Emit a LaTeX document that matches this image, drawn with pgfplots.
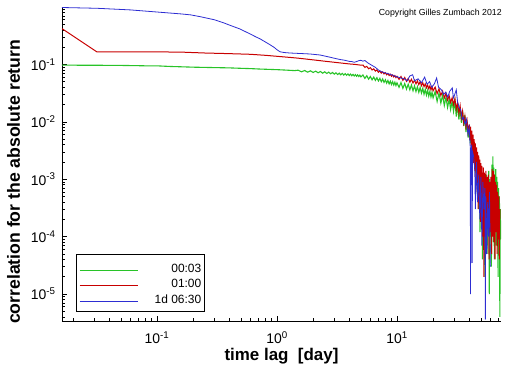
\documentclass[border=0pt]{standalone}
\usepackage{fontspec}
\setmainfont{Liberation Sans}
\usepackage{pgfplots}
\pgfplotsset{compat=1.18}
\definecolor{cgreen}{RGB}{40,195,40}
\definecolor{cred}{RGB}{200,0,0}
\definecolor{cblue}{RGB}{45,45,210}
\begin{document}
\begin{tikzpicture}
\begin{axis}[
 at={(0,0)}, anchor=south west,
 scale only axis, width=439bp, height=314bp,
 xmode=log, ymode=log,
 xmin=0.01615, xmax=73.6, ymin=3.39e-6, ymax=1.0,
 axis lines=left, axis line style={-, line width=0.8bp},
 tick align=inside,
 major tick length=5bp, minor tick length=3bp,
 every tick/.style={black, line width=0.6bp},
 xtick={0.1,1,10},
 xticklabels={10\textsuperscript{-1},10\textsuperscript{0},10\textsuperscript{1}},
 minor xtick={0.02,0.03,0.04,0.05,0.06,0.07,0.08,0.09,0.2,0.3,0.4,0.5,0.6,0.7,0.8,0.9,2,3,4,5,6,7,8,9,20,30,40,50,60,70},
 ytick={1e-5,1e-4,1e-3,1e-2,1e-1},
 yticklabels={10\textsuperscript{-5},10\textsuperscript{-4},10\textsuperscript{-3},10\textsuperscript{-2},10\textsuperscript{-1}},
 minor ytick={4e-6,5e-6,6e-6,7e-6,8e-6,9e-6,2e-5,3e-5,4e-5,5e-5,6e-5,7e-5,8e-5,9e-5,2e-4,3e-4,4e-4,5e-4,6e-4,7e-4,8e-4,9e-4,2e-3,3e-3,4e-3,5e-3,6e-3,7e-3,8e-3,9e-3,0.02,0.03,0.04,0.05,0.06,0.07,0.08,0.09,0.2,0.3,0.4,0.5,0.6,0.7,0.8,0.9},
 ticklabel style={font=\fontsize{14}{14}\selectfont},
 yticklabel style={xshift=-3bp},
 xticklabel style={yshift=-7bp},
 xlabel={time lag\ \ [day]},
 ylabel={correlation for the absolute return},
 xlabel style={font=\bfseries\fontsize{17}{17}\selectfont, at={(axis description cs:0.5,-0.111)}, anchor=center},
 ylabel style={font=\bfseries\fontsize{17.7}{18}\selectfont, at={(axis description cs:-0.1105,0.443)}, anchor=center},
 legend image code/.code={\draw[#1] (0bp,0bp) -- (58bp,0bp);},
 legend style={draw=none, fill=none, at={(rel axis cs:0.0387,0.1871)}, anchor=north west,
   inner sep=0pt, row sep=0pt, column sep=0pt, font=\fontsize{12}{12}\selectfont,
   nodes={inner xsep=0pt, inner ysep=0pt, text height=10bp, text depth=5.5bp}},
 legend cell align=right,
]
\addplot[cgreen, line width=1.1bp] coordinates {
(0.01615,0.097)(0.025,0.0968)(0.035,0.0965)(0.05,0.096)(0.07,0.095)(0.09,0.094)(0.1,0.0945)(0.11,0.0935)(0.13,0.092)(0.156,0.091)(0.2,0.0895)(0.3,0.088)(0.4,0.087)(0.5,0.0855)(0.6,0.0845)(0.72,0.083)(0.85,0.082)(1.0,0.081)(1.2,0.0795)(1.4,0.078)
(1.5,0.0793)(1.6,0.0742)(1.7,0.0783)(1.8,0.0732)(1.9,0.0773)(2.0,0.0724)(2.1,0.0763)(2.2,0.0714)(2.3,0.0753)(2.4,0.0704)(2.5,0.0743)(2.6,0.0695)(2.7,0.0733)(2.8,0.0686)(2.9,0.0723)(3.0,0.0676)(3.1,0.0713)(3.2,0.0666)(3.3,0.0702)(3.4,0.0660)(3.5,0.0697)(3.6,0.0653)(3.7,0.0690)(3.8,0.0647)(3.9,0.0684)(4.0,0.0641)(4.1,0.0678)(4.2,0.0634)(4.3,0.0671)(4.4,0.0629)(4.5,0.0664)(4.6,0.0622)(4.7,0.0657)(4.8,0.0616)(4.9,0.0649)(5.0,0.0607)
(5.2,0.0654)(5.4,0.0572)(5.6,0.0634)(5.8,0.0554)(6.0,0.0615)(6.2,0.0539)(6.4,0.0601)(6.6,0.0526)(6.8,0.0586)(7.0,0.0514)(7.2,0.0572)(7.4,0.0500)(7.6,0.0557)(7.8,0.0486)(8.0,0.0540)(8.2,0.0472)(8.4,0.0524)(8.6,0.0458)(8.8,0.0510)(9.0,0.0447)(9.2,0.0499)(9.4,0.0438)(9.6,0.0488)(9.8,0.0428)(10.0,0.0477)
(10.4,0.0399)(10.8,0.0484)(11.2,0.0384)(11.6,0.0465)(12.0,0.0371)(12.4,0.0451)(12.8,0.0360)(13.2,0.0436)(13.6,0.0348)(14.0,0.0422)(14.4,0.0337)(14.8,0.0407)(15.2,0.0326)(15.6,0.0396)(16.0,0.0317)(16.4,0.0382)(16.8,0.0303)(17.2,0.0367)(17.6,0.0292)(18.0,0.0353)(18.4,0.0281)(18.8,0.0340)(19.2,0.0271)(19.6,0.0327)(20.0,0.0261)
(20.8,0.0337)(21.6,0.0226)(22.4,0.0317)(23.2,0.0212)(24.0,0.0292)(24.8,0.0193)(25.6,0.0268)(26.4,0.0178)(27.2,0.0247)(28.0,0.0164)(28.8,0.0228)(29.6,0.0152)(30.4,0.0230)(31.2,0.0124)(32.0,0.0201)(32.8,0.0109)(33.6,0.0177)(34.4,0.0096)(35.2,0.0157)(36.0,0.0085)(36.8,0.0131)(37.6,0.0066)(38.4,0.0102)(39.2,0.0053)(40.0,0.0083)(40.8,0.0042)(41.6,0.0063)(42.4,0.0032)(43.2,0.0049)(44.0,0.0024)
(44.5,0.0034)(45,0.0013)(45.5,0.0028)(46,0.0008)(46.5,0.0022)(47,0.0004)(47.5,0.0019)(48,0.0003)(48.6,0.0016)(49.2,0.00012)(49.8,0.0013)(50.4,0.0002)(51,0.0011)(51.6,0.00004)(52.2,0.0009)(52.8,0.00025)(53.4,0.0011)(54,0.00002)(54.6,0.0008)(55.2,0.00015)(55.8,0.0012)(56.4,0.00005)(57,0.0009)(57.6,0.0003)(58.2,0.0014)(58.8,0.00001)(59.4,0.001)(60,0.0001)(60.6,0.0008)(61.2,0.00003)(61.8,0.0018)(62.4,0.00015)(63,0.0025)(63.6,0.00008)(64.2,0.0016)(64.8,0.00004)(65.4,0.0012)(66,0.0002)(66.6,0.0015)(67.2,0.00007)(67.8,0.0011)(68.4,0.00025)(69,0.0009)(69.6,0.00002)(70.2,0.0007)(70.8,0.00012)(71.4,0.0005)(72,0.000004)(72.6,0.0003)(73.2,0.00009)
};
\addlegendentry{\makebox[63bp][r]{00:03}}
\addplot[cred, line width=1bp] coordinates {
(0.01615,0.42)(0.0316,0.165)(0.06,0.166)(0.1,0.165)(0.156,0.164)(0.25,0.158)(0.4,0.154)(0.6,0.15)(0.8,0.144)(1.06,0.137)(1.3,0.132)(1.5,0.1285)(2.0,0.12)(2.5,0.1137)(3.0,0.109)(3.5,0.1051)(4.0,0.102)(4.5,0.0998)(5.0,0.097)
(5.2,0.0976)(5.4,0.0887)(5.6,0.0924)(5.8,0.0840)(6.0,0.0877)(6.2,0.0800)(6.4,0.0838)(6.6,0.0765)(6.8,0.0802)(7.0,0.0731)(7.2,0.0766)(7.4,0.0703)(7.6,0.0741)(7.8,0.0681)(8.0,0.0718)(8.2,0.0659)(8.4,0.0694)(8.6,0.0639)(8.8,0.0675)(9.0,0.0621)(9.2,0.0656)(9.4,0.0605)(9.6,0.0639)(9.8,0.0588)(10.0,0.0621)
(10.4,0.0549)(10.8,0.0616)(11.2,0.0526)(11.6,0.0592)(12.0,0.0506)(12.4,0.0570)(12.8,0.0489)(13.2,0.0551)(13.6,0.0473)(14.0,0.0533)(14.4,0.0458)(14.8,0.0518)(15.2,0.0444)(15.6,0.0501)(16.0,0.0427)(16.4,0.0479)(16.8,0.0410)(17.2,0.0459)(17.6,0.0392)(18.0,0.0439)(18.4,0.0375)(18.8,0.0423)(19.2,0.0361)(19.6,0.0407)(20.0,0.0347)
(20.8,0.0403)(21.6,0.0310)(22.4,0.0376)(23.2,0.0287)(24.0,0.0343)(24.8,0.0260)(25.6,0.0314)(26.4,0.0239)(27.2,0.0287)(28.0,0.0217)(28.8,0.0262)(29.6,0.0200)(30.4,0.0254)(31.2,0.0164)(32.0,0.0218)(32.8,0.0141)(33.6,0.0190)(34.4,0.0117)(35.2,0.0154)(36.0,0.0096)(36.8,0.0126)(37.6,0.0080)(38.4,0.0104)(39.2,0.0066)
(40,0.009)(40.5,0.0048)(41,0.0082)(41.5,0.0038)(42,0.007)(42.5,0.0028)(43,0.006)(43.5,0.0019)(44,0.005)(44.5,0.0014)(45,0.0042)(45.5,0.0009)(46,0.0036)(46.5,0.0006)(47,0.003)(47.5,0.0003)(48,0.0026)(48.5,0.0004)(49,0.0022)(49.5,0.00018)(50,0.0019)(50.5,0.00014)(51,0.0017)(51.7,0.0001)(52.4,0.0016)(53,0.00002)(53.6,0.0013)(54.3,0.0001)(55,0.0014)(55.7,0.00006)(56.4,0.0011)(57.1,0.0002)(57.8,0.0012)(58.5,0.00004)(59.2,0.0009)(60,0.00012)(60.7,0.0011)(61.4,0.00005)(62.1,0.0015)(62.8,0.0001)(63.5,0.0014)(64.2,0.00008)(64.9,0.0012)(65.6,0.00004)(66.3,0.0009)(67,0.00012)(67.7,0.0008)(68.4,0.00005)(69.1,0.0006)(69.8,0.00009)(70.5,0.0005)(71.2,0.00004)(72,0.0003)
};
\addlegendentry{\makebox[63bp][r]{01:00}}
\addplot[cblue, line width=0.8bp] coordinates {
(0.01615,0.98)(0.0316,0.95)(0.06,0.89)(0.106,0.81)(0.156,0.76)(0.19,0.73)(0.228,0.68)(0.3,0.6)(0.355,0.535)(0.406,0.48)(0.49,0.415)(0.596,0.34)(0.67,0.3)(0.72,0.28)(0.875,0.22)(0.95,0.197)(1.0,0.18)(1.06,0.166)(1.15,0.161)(1.28,0.158)(1.55,0.155)(1.88,0.152)(2.28,0.146)(2.7,0.135)(3.16,0.125)(3.4,0.121)(3.6,0.119)(3.8,0.116)(4.0,0.113)(4.2,0.112)(4.4,0.109)(4.6,0.112)(4.8,0.116)(5.0,0.118)(5.2,0.114)(5.4,0.117)(5.6,0.11)(5.8,0.104)(6.0,0.1)(6.3,0.094)(6.6,0.089)(7.0,0.08)(7.4,0.075)(7.8,0.072)(8.2,0.07)(8.6,0.068)(9.0,0.066)(9.5,0.063)(10.0,0.061)(10.5,0.059)(11.5,0.056)(12.2,0.052)(12.8,0.063)(13.5,0.066)(14.0,0.052)(15,0.056)(16,0.048)(17,0.06)(17.8,0.045)(18.7,0.05)(19.5,0.04)(20.5,0.046)(21.4,0.058)(22.2,0.04)(23.5,0.036)(24.5,0.03)(25.5,0.033)(26.5,0.027)(27.5,0.034)(28.9,0.039)(29.5,0.026)(30.3,0.03)(31.2,0.036)(32,0.022)(33,0.018)(34,0.016)(35,0.011)(36,0.012)(37,0.009)(38,0.011)(39,0.006)(40,0.008)(40.8,0.0035)(41.0,0.00001)(41.3,0.003)(42,0.004)(42.3,0.000035)(42.6,0.003)(43.5,0.0025)(44.5,0.0015)(45,0.0003)(46,0.002)(47,0.0004)(48,0.0012)(49,0.0002)(50,0.0011)(51,0.00007)(52,0.0009)(53,0.0003)(54,0.0007)(54.5,0.0000036)(55,0.0005)(56,0.00005)(57,0.0004)(58,0.0001)(59,0.0006)(60,0.00003)
};
\addlegendentry{\makebox[63bp][r]{1d 06:30}}
\draw[line width=1bp] (rel axis cs:0.0319,0.0318) rectangle (rel axis cs:0.3235,0.2102);
\node[anchor=east, font=\fontsize{8.8}{9}\selectfont, inner sep=0pt] at (rel axis cs:1.002,0.981) {Copyright Gilles Zumbach 2012};
\end{axis}
\pgfresetboundingbox
\path[use as bounding box] (-62bp,-45bp) rectangle (450bp,321bp);
\end{tikzpicture}
\end{document}
